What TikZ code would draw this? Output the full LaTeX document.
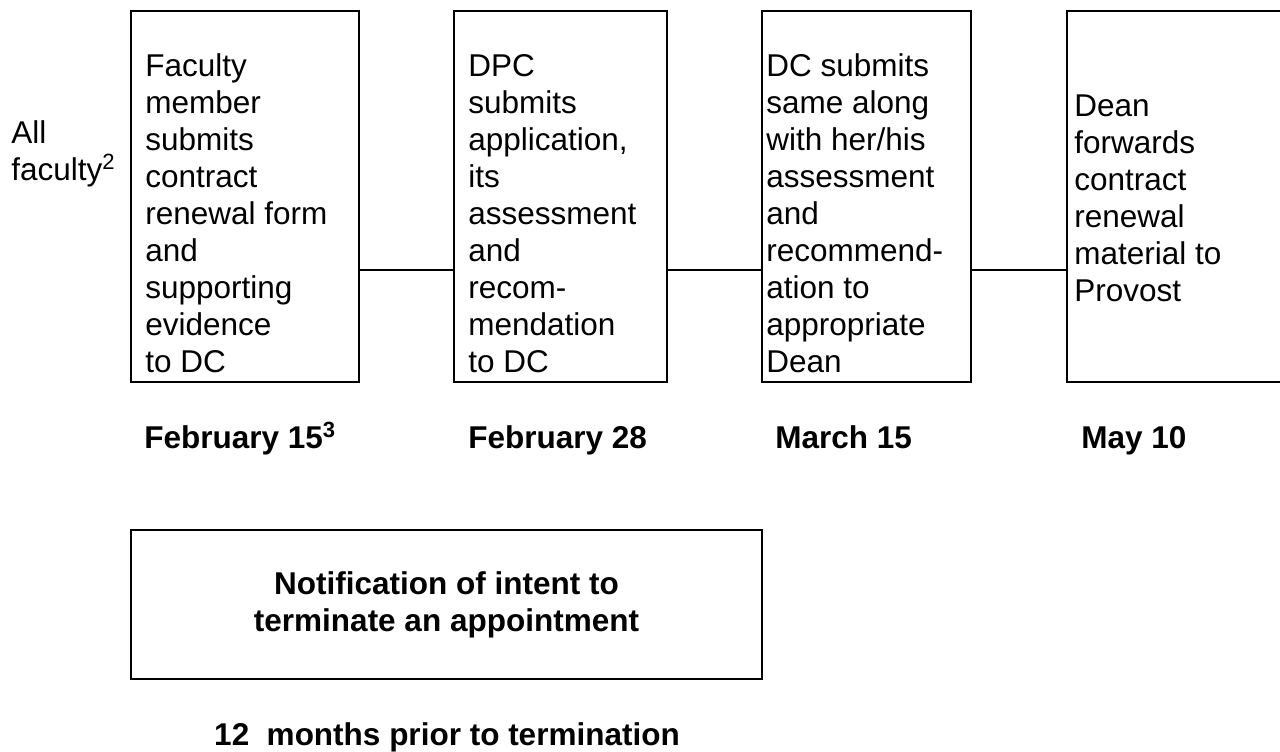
\documentclass[tikz,border=0pt]{standalone}
\usepackage{fontspec}
\setmainfont{Liberation Sans}
\newcommand\linesof[1]{\vtop{\halign{##\hfil\cr#1\crcr}}}
\begin{document}
\begin{tikzpicture}[x=0.5pt,y=-0.5pt,
  box/.style={draw, line width=1pt, inner sep=0pt, outer sep=0pt, anchor=north west},
  body/.style={font=\fontsize{15.75pt}{18.5pt}\selectfont, inner sep=0pt, anchor=base west},
  datelbl/.style={font=\fontsize{15.75pt}{18.5pt}\selectfont\bfseries, inner sep=0pt, anchor=base west},
  link/.style={line width=1pt}]
\clip (0,0) rectangle (1280,751);
\fill[white] (0,0) rectangle (1280,751);
% top row boxes
\node[box, minimum width=114pt, minimum height=185.5pt] (b1) at (131,11) {};
\node[box, minimum width=106.5pt, minimum height=185.5pt] (b2) at (454,11) {};
\node[box, minimum width=104.5pt, minimum height=185.5pt] (b3) at (762,11) {};
\node[box, minimum width=126.5pt, minimum height=185.5pt] (b4) at (1067,11) {};
% connectors
\draw[link] ([yshift=-36.75pt]b1.east) -- ([yshift=-36.75pt]b2.west);
\draw[link] ([yshift=-36.75pt]b2.east) -- ([yshift=-36.75pt]b3.west);
\draw[link] ([yshift=-36.75pt]b3.east) -- ([yshift=-36.75pt]b4.west);
% texts
\node[body] (t0) at (11,143) {\linesof{All\cr faculty\textsuperscript{2}}};
\node[body] (t1) at (145,76) {\linesof{Faculty\cr member\cr submits\cr contract\cr renewal form\cr and\cr supporting\cr evidence\cr to DC}};
\node[body] (t2) at (468,76) {\linesof{DPC\cr submits\cr application,\cr its\cr assessment\cr and\cr recom-\cr mendation\cr to DC}};
\node[body] (t3) at (766,76) {\linesof{DC submits\cr same along\cr with her/his\cr assessment\cr and\cr recommend-\cr ation to\cr appropriate\cr Dean}};
\node[body] (t4) at (1074,116) {\linesof{Dean\cr forwards\cr contract\cr renewal\cr material to\cr Provost}};
% dates
\node[datelbl] (d1) at (144,448) {February 15\textsuperscript{3}};
\node[datelbl] (d2) at (468,448) {February 28};
\node[datelbl] (d3) at (775,448) {March 15};
\node[datelbl] (d4) at (1081,448) {May 10};
% bottom box
\node[draw, line width=1pt, inner sep=0pt, minimum width=315.5pt, minimum height=74.5pt,
      align=center, font=\fontsize{15.75pt}{18.5pt}\selectfont\bfseries] (nb) at (446.5,604.5)
      {Notification of intent to\\terminate an appointment};
\node[datelbl, anchor=base] (nl) at (447,745) {12\ \ months prior to termination};
\end{tikzpicture}
\end{document}
